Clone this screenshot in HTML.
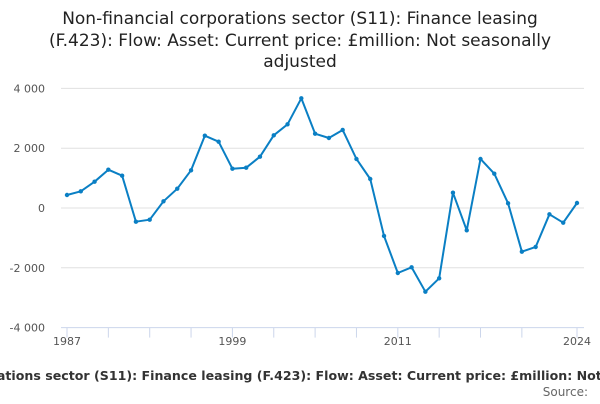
<!DOCTYPE html>
<html><head><meta charset="utf-8"><style>
body{margin:0;background:#fff;width:600px;height:400px;overflow:hidden;font-family:"DejaVu Sans","Liberation Sans",sans-serif}
</style></head><body>
<svg id="chart" width="600" height="400" xmlns="http://www.w3.org/2000/svg" font-family="DejaVu Sans, Liberation Sans, sans-serif">
<g font-size="17" fill="#222" text-anchor="middle">
<text x="300" y="24">Non-financial corporations sector (S11): Finance leasing</text>
<text x="300" y="46">(F.423): Flow: Asset: Current price: £million: Not seasonally</text>
<text x="300" y="67">adjusted</text>
</g>
<g id="grid"></g><g id="yaxis"></g><g id="xaxis"></g><g id="series"></g>
<text x="300" y="380" text-anchor="middle" font-size="12.6" font-weight="bold" fill="#333">Non-financial corporations sector (S11): Finance leasing (F.423): Flow: Asset: Current price: £million: Not seasonally adjusted</text>
<text x="588" y="396" text-anchor="end" font-size="12" fill="#666">Source:</text>
</svg>
<script>
const years = [1987,1988,1989,1990,1991,1992,1993,1994,1995,1996,1997,1998,1999,2000,2001,2002,2003,2004,2005,2006,2007,2008,2009,2010,2011,2012,2013,2014,2015,2016,2017,2018,2019,2020,2021,2022,2023,2024];
const values = [435,558,880,1281,1080,-458,-391,224,646,1261,2418,2217,1314,1348,1716,2431,2799,3669,2485,2341,2609,1639,970,-936,-2174,-1983,-2799,-2351,512,-746,1639,1147,157,-1461,-1304,-211,-491,167];
const yTicks = [4000,2000,0,-2000,-4000];
const yTickLabels = ["4 000","2 000","0","-2 000","-4 000"];
const xTickYears = [1987,1990,1993,1996,1999,2002,2005,2008,2011,2014,2017,2020,2024];
const xLabels = [1987,1999,2011,2024];
const NS="http://www.w3.org/2000/svg";
const x = v => 67 + (v-1987)*(510/37);
const y = v => 208 - v*(59.8/2000);
function mk(tag, attrs, parent){const e=document.createElementNS(NS,tag);for(const k in attrs)e.setAttribute(k,attrs[k]);document.getElementById(parent).appendChild(e);return e;}
yTicks.forEach((t,i)=>{
  if(t!==-4000){const g=mk('line',{x1:61,x2:584,y1:y(t),y2:y(t),stroke:'#e0e0e0','stroke-width':1},'grid');
  
  }
  const l=mk('text',{x:45,y:y(t)+4,'text-anchor':'end','font-size':11,fill:'#555'},'yaxis');
  l.textContent=yTickLabels[i];
  
  
});
const ax=mk('line',{x1:61,x2:584,y1:y(-4000),y2:y(-4000),stroke:'#ccd6eb','stroke-width':1},'xaxis');


xTickYears.forEach(t=>{const tk=mk('line',{x1:x(t),x2:x(t),y1:y(-4000),y2:y(-4000)+10,stroke:'#ccd6eb'},'xaxis');
  
  });
xLabels.forEach(t=>{const l=mk('text',{x:x(t),y:345,'text-anchor':'middle','font-size':11,fill:'#555'},'xaxis');
  l.textContent=t;
  
  });
const line=mk('path',{d:values.map((v,i)=>(i?'L':'M')+x(years[i])+','+y(v)).join(''),fill:'none',stroke:'#0a7fc4','stroke-width':2,'stroke-linejoin':'round'},'series');


values.forEach((v,i)=>{const c=mk('circle',{cx:x(years[i]),cy:y(v),r:2.2,fill:'#0a7fc4'},'series');
  
  });
</script>
</body></html>
